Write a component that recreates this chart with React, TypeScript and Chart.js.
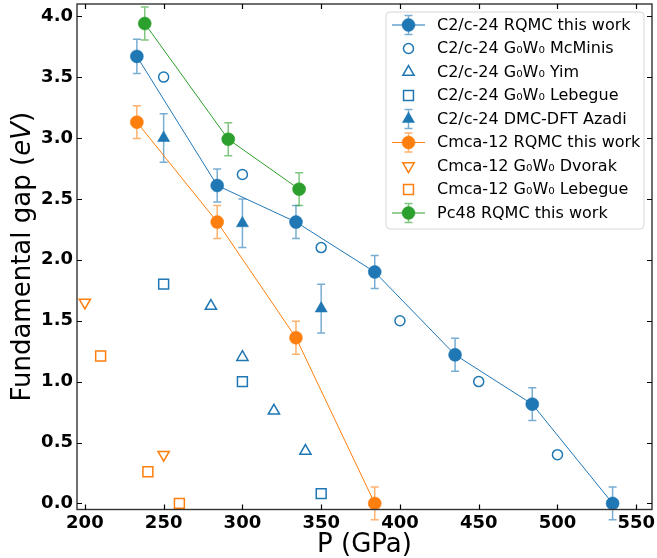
import React, { useEffect, useRef } from "react";
import { Chart, registerables } from "chart.js";

Chart.register(...registerables);

const BLUE = "#1f77b4";
const ORANGE = "#ff7f0e";
const GREEN = "#2ca02c";

// ---- data ----
const xTicks = [200, 250, 300, 350, 400, 450, 500, 550];
const yTicks = [0, 0.5, 1.0, 1.5, 2.0, 2.5, 3.0, 3.5, 4.0];

const c2cRqmcP = [233, 284, 334, 384, 435, 484, 535];
const c2cRqmcGap = [3.67, 2.61, 2.31, 1.9, 1.22, 0.815, 0.0];
const c2cRqmcErr = [0.14, 0.135, 0.135, 0.135, 0.135, 0.135, 0.135];

const mcminisP = [250, 300, 350, 400, 450, 500];
const mcminisGap = [3.5, 2.7, 2.1, 1.5, 1.0, 0.4];

const yimP = [280, 300, 320, 340];
const yimGap = [1.62, 1.2, 0.76, 0.43];

const lebegueC2cP = [250, 300, 350];
const lebegueC2cGap = [1.8, 1.0, 0.08];

const azadiP = [250, 300, 350];
const azadiGap = [3.0, 2.3, 1.6];
const azadiErr = [0.2, 0.2, 0.2];

const cmcaRqmcP = [233, 284, 334, 384];
const cmcaRqmcGap = [3.13, 2.31, 1.36, 0.0];
const cmcaRqmcErr = [0.135, 0.135, 0.135, 0.135];

const dvorakP = [200, 250];
const dvorakGap = [1.65, 0.4];

const lebegueCmcaP = [210, 240, 260];
const lebegueCmcaGap = [1.21, 0.26, 0.0];

const pc48P = [238, 291, 336];
const pc48Gap = [3.94, 2.99, 2.58];
const pc48Err = [0.135, 0.135, 0.135];

const legendLabels = [
  "C2/c-24 RQMC this work",
  "C2/c-24 G\u2080W\u2080 McMinis",
  "C2/c-24 G\u2080W\u2080 Yim",
  "C2/c-24 G\u2080W\u2080 Lebegue",
  "C2/c-24 DMC-DFT Azadi",
  "Cmca-12 RQMC this work",
  "Cmca-12 G\u2080W\u2080 Dvorak",
  "Cmca-12 G\u2080W\u2080 Lebegue",
  "Pc48 RQMC this work",
];

const toPts = (xs: number[], ys: number[]) => xs.map((x, i) => ({ x, y: ys[i] }));

function withAlpha(hex: string, a: number) {
  const r = parseInt(hex.slice(1, 3), 16);
  const g = parseInt(hex.slice(3, 5), 16);
  const b = parseInt(hex.slice(5, 7), 16);
  return `rgba(${r},${g},${b},${a})`;
}

function drawMarker(
  ctx: CanvasRenderingContext2D,
  style: string,
  x: number,
  y: number,
  r: number,
  fill: string | null,
  stroke: string,
  lw: number,
  rotation = 0
) {
  ctx.save();
  ctx.beginPath();
  if (style === "circle") {
    ctx.arc(x, y, r, 0, Math.PI * 2);
  } else if (style === "triangle") {
    let rad = (rotation * Math.PI) / 180;
    ctx.moveTo(x + Math.sin(rad) * r, y - Math.cos(rad) * r);
    rad += (2 * Math.PI) / 3;
    ctx.lineTo(x + Math.sin(rad) * r, y - Math.cos(rad) * r);
    rad += (2 * Math.PI) / 3;
    ctx.lineTo(x + Math.sin(rad) * r, y - Math.cos(rad) * r);
    ctx.closePath();
  } else if (style === "rect") {
    const s = r * Math.SQRT1_2;
    ctx.rect(x - s, y - s, 2 * s, 2 * s);
  }
  if (fill) {
    ctx.fillStyle = fill;
    ctx.fill();
  }
  ctx.lineWidth = lw;
  ctx.strokeStyle = stroke;
  ctx.stroke();
  ctx.restore();
}

const legendItems = [
  { color: BLUE, style: "circle", filled: true, line: true, err: true, r: 6.5, rot: 0 },
  { color: BLUE, style: "circle", filled: false, line: false, err: false, r: 5, rot: 0 },
  { color: BLUE, style: "triangle", filled: false, line: false, err: false, r: 6.5, rot: 0 },
  { color: BLUE, style: "rect", filled: false, line: false, err: false, r: 7, rot: 0 },
  { color: BLUE, style: "triangle", filled: true, line: false, err: true, r: 7, rot: 0 },
  { color: ORANGE, style: "circle", filled: true, line: true, err: true, r: 6.5, rot: 0 },
  { color: ORANGE, style: "triangle", filled: false, line: false, err: false, r: 6.5, rot: 180 },
  { color: ORANGE, style: "rect", filled: false, line: false, err: false, r: 7, rot: 0 },
  { color: GREEN, style: "circle", filled: true, line: true, err: true, r: 6.5, rot: 0 },
];

const errorBarPlugin = {
  id: "errorBars",
  beforeDatasetsDraw(chart: any) {
    const ctx = chart.ctx;
    const xs = chart.scales.x;
    const ys = chart.scales.y;
    chart.data.datasets.forEach((ds: any) => {
      if (!ds.errorBars) return;
      ctx.save();
      ctx.strokeStyle = withAlpha(ds.errColor, 0.6);
      ctx.lineWidth = 1.5;
      ds.data.forEach((p: any, i: number) => {
        const e = ds.errorBars[i];
        const px = xs.getPixelForValue(p.x);
        const y1 = ys.getPixelForValue(p.y + e);
        const y2 = ys.getPixelForValue(p.y - e);
        ctx.beginPath();
        ctx.moveTo(px, y1);
        ctx.lineTo(px, y2);
        ctx.moveTo(px - 4, y1);
        ctx.lineTo(px + 4, y1);
        ctx.moveTo(px - 4, y2);
        ctx.lineTo(px + 4, y2);
        ctx.stroke();
      });
      ctx.restore();
    });
  },
};

const framePlugin = {
  id: "frame",
  afterDraw(chart: any) {
    const ctx: CanvasRenderingContext2D = chart.ctx;
    const { left, right, top, bottom } = chart.chartArea;
    const xs = chart.scales.x;
    const ys = chart.scales.y;
    ctx.save();
    // spines
    ctx.strokeStyle = "#333";
    ctx.lineWidth = 1.4;
    ctx.strokeRect(left, top, right - left, bottom - top);
    // inward ticks
    ctx.lineWidth = 1.2;
    ctx.strokeStyle = "#000";
    ctx.beginPath();
    xTicks.forEach((v) => {
      const px = Math.round(xs.getPixelForValue(v)) + 0.5;
      ctx.moveTo(px, bottom);
      ctx.lineTo(px, bottom - 5);
      ctx.moveTo(px, top);
      ctx.lineTo(px, top + 5);
    });
    yTicks.forEach((v) => {
      const py = Math.round(ys.getPixelForValue(v)) + 0.5;
      ctx.moveTo(left, py);
      ctx.lineTo(left + 5, py);
      ctx.moveTo(right, py);
      ctx.lineTo(right - 5, py);
    });
    ctx.stroke();

    // axis titles
    ctx.fillStyle = "#000";
    ctx.font = "26px 'DejaVu Sans'";
    ctx.textAlign = "center";
    ctx.textBaseline = "alphabetic";
    ctx.fillText("P (GPa)", (left + right) / 2, 551.5);

    const parts = [
      { t: "Fundamental gap (", f: "26px 'DejaVu Sans'" },
      { t: "eV", f: "italic 26px 'DejaVu Sans'" },
      { t: ")", f: "26px 'DejaVu Sans'" },
    ];
    let total = 0;
    parts.forEach((p) => {
      ctx.font = p.f;
      total += ctx.measureText(p.t).width;
    });
    ctx.save();
    ctx.translate(29.5, (top + bottom) / 2);
    ctx.rotate(-Math.PI / 2);
    ctx.textAlign = "left";
    let cx = -total / 2;
    parts.forEach((p) => {
      ctx.font = p.f;
      ctx.fillText(p.t, cx, 0);
      cx += ctx.measureText(p.t).width;
    });
    ctx.restore();

    // legend
    const bx = 386, by = 12, bw = 258, bh = 217;
    ctx.beginPath();
    const rr = 4;
    ctx.moveTo(bx + rr, by);
    ctx.lineTo(bx + bw - rr, by);
    ctx.quadraticCurveTo(bx + bw, by, bx + bw, by + rr);
    ctx.lineTo(bx + bw, by + bh - rr);
    ctx.quadraticCurveTo(bx + bw, by + bh, bx + bw - rr, by + bh);
    ctx.lineTo(bx + rr, by + bh);
    ctx.quadraticCurveTo(bx, by + bh, bx, by + bh - rr);
    ctx.lineTo(bx, by + rr);
    ctx.quadraticCurveTo(bx, by, bx + rr, by);
    ctx.closePath();
    ctx.fillStyle = "rgba(255,255,255,0.8)";
    ctx.fill();
    ctx.strokeStyle = "#d6d6d6";
    ctx.lineWidth = 1;
    ctx.stroke();

    legendItems.forEach((it, i) => {
      const cy = 25 + i * 23.5;
      const mx = 408.5;
      if (it.line) {
        ctx.beginPath();
        ctx.strokeStyle = it.color;
        ctx.lineWidth = 1;
        ctx.moveTo(392, cy);
        ctx.lineTo(425, cy);
        ctx.stroke();
      }
      if (it.err) {
        ctx.beginPath();
        ctx.strokeStyle = withAlpha(it.color, 0.6);
        ctx.lineWidth = 1.5;
        ctx.moveTo(mx, cy - 9.5);
        ctx.lineTo(mx, cy + 9.5);
        ctx.moveTo(mx - 4, cy - 9.5);
        ctx.lineTo(mx + 4, cy - 9.5);
        ctx.moveTo(mx - 4, cy + 9.5);
        ctx.lineTo(mx + 4, cy + 9.5);
        ctx.stroke();
      }
      drawMarker(
        ctx,
        it.style,
        mx,
        cy,
        it.r,
        it.filled ? it.color : null,
        it.color,
        it.filled ? 0.5 : 1.5,
        it.rot
      );
      ctx.fillStyle = "#000";
      ctx.font = "16px 'DejaVu Sans'";
      ctx.textAlign = "left";
      ctx.textBaseline = "middle";
      ctx.fillText(legendLabels[i], 437, cy + 0.5);
    });
    ctx.restore();
  },
};

function lineSet(label: string, xs: number[], ys: number[], errs: number[], color: string) {
  return {
    label,
    data: toPts(xs, ys),
    showLine: true,
    borderColor: color,
    borderWidth: 1,
    pointStyle: "circle",
    pointRadius: 6.5,
    pointBackgroundColor: color,
    pointBorderColor: color,
    pointBorderWidth: 0.5,
    errorBars: errs,
    errColor: color,
  };
}

function markerSet(
  label: string,
  xs: number[],
  ys: number[],
  color: string,
  style: string,
  r: number,
  filled: boolean,
  rot = 0,
  errs: number[] | null = null
) {
  return {
    label,
    data: toPts(xs, ys),
    showLine: false,
    pointStyle: style,
    pointRadius: r,
    pointRotation: rot,
    pointBackgroundColor: filled ? color : "rgba(0,0,0,0)",
    pointBorderColor: color,
    pointBorderWidth: filled ? 0.5 : 1.5,
    errorBars: errs,
    errColor: color,
  };
}

const zeroPad = (s: any) => {
  s.paddingLeft = 0;
  s.paddingRight = 0;
  s.paddingTop = 0;
  s.paddingBottom = 0;
};

export default function App() {
  const ref = useRef<HTMLCanvasElement | null>(null);

  useEffect(() => {
    if (!ref.current) return;
    const chart = new Chart(ref.current, {
      type: "scatter",
      data: {
        datasets: [
          lineSet(legendLabels[0], c2cRqmcP, c2cRqmcGap, c2cRqmcErr, BLUE),
          markerSet(legendLabels[1], mcminisP, mcminisGap, BLUE, "circle", 5, false),
          markerSet(legendLabels[2], yimP, yimGap, BLUE, "triangle", 6.5, false),
          markerSet(legendLabels[3], lebegueC2cP, lebegueC2cGap, BLUE, "rect", 7, false),
          markerSet(legendLabels[4], azadiP, azadiGap, BLUE, "triangle", 7, true, 0, azadiErr),
          lineSet(legendLabels[5], cmcaRqmcP, cmcaRqmcGap, cmcaRqmcErr, ORANGE),
          markerSet(legendLabels[6], dvorakP, dvorakGap, ORANGE, "triangle", 6.5, false, 180),
          markerSet(legendLabels[7], lebegueCmcaP, lebegueCmcaGap, ORANGE, "rect", 7, false),
          lineSet(legendLabels[8], pc48P, pc48Gap, pc48Err, GREEN),
        ] as any,
      },
      options: {
        animation: false,
        responsive: false,
        events: [],
        layout: { autoPadding: false, padding: { top: 4, right: 5, left: 0, bottom: 0 } },
        plugins: {
          legend: { display: false },
          tooltip: { enabled: false },
        },
        scales: {
          x: {
            type: "linear",
            min: 195,
            max: 560,
            afterBuildTicks: (s: any) => {
              s.ticks = xTicks.map((v) => ({ value: v }));
            },
            afterFit: (s: any) => {
              s.height = 48.5;
              zeroPad(s);
            },
            grid: { display: false, drawTicks: false },
            border: { display: false },
            ticks: {
              padding: 3,
              color: "#000",
              font: { family: "'DejaVu Sans'", size: 18, weight: "bold" },
              callback: (v: any) => String(v),
            },
          },
          y: {
            type: "linear",
            min: -0.05,
            max: 4.1,
            afterBuildTicks: (s: any) => {
              s.ticks = yTicks.map((v) => ({ value: v }));
            },
            afterFit: (s: any) => {
              s.width = 77;
              zeroPad(s);
            },
            grid: { display: false, drawTicks: false },
            border: { display: false },
            ticks: {
              padding: 4,
              color: "#000",
              font: { family: "'DejaVu Sans'", size: 18, weight: "bold" },
              callback: (v: any) => Number(v).toFixed(1),
            },
          },
        },
      } as any,
      plugins: [errorBarPlugin, framePlugin],
    });
    return () => chart.destroy();
  }, []);

  return (
    <div style={{ position: "absolute", left: 0, top: 0, width: 657, height: 558 }}>
      <canvas ref={ref} width={657} height={558} style={{ width: 657, height: 558, display: "block" }} />
    </div>
  );
}
